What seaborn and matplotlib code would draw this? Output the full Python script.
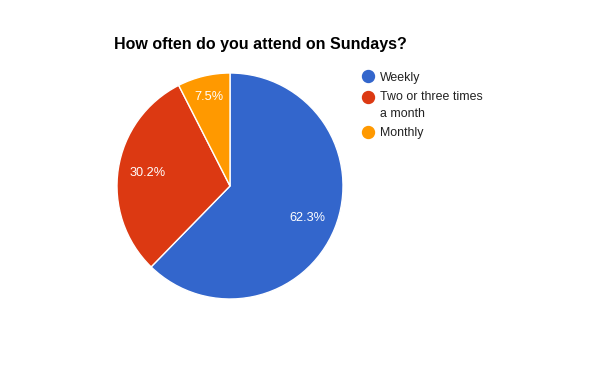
import matplotlib
matplotlib.use("Agg")
import matplotlib.pyplot as plt
import seaborn as sns
from matplotlib.lines import Line2D
from matplotlib.legend_handler import HandlerLine2D

categories = ["Weekly", "Two or three times\na month", "Monthly"]
shares = [62.3, 30.2, 7.5]
colors = ["#3366CC", "#DC3912", "#FF9900"]
title = "How often do you attend on Sundays?"

sns.set_theme(style="white")
plt.rcParams['font.family'] = ['Liberation Sans', 'DejaVu Sans']

fig = plt.figure(figsize=(6, 3.71), dpi=100)
W, H = 600, 371
# pie centre ~ (230, 186) px, radius ~113 px
ax = fig.add_axes([117 / W, (H - 186 - 113) / H, 226 / W, 226 / H])
wedges, texts, autotexts = ax.pie(
    shares, colors=colors, startangle=90, counterclock=False,
    autopct=lambda p: f"{p:.1f}%", pctdistance=0.74,
    wedgeprops=dict(edgecolor="white", linewidth=1),
    textprops=dict(color="white", fontsize=9.2),
)
ax.set_xlim(-1, 1)
ax.set_ylim(-1, 1)
ax.set_aspect("equal")
autotexts[2].set_position((autotexts[2].get_position()[0] * 1.1,
                           autotexts[2].get_position()[1] * 1.1))

fig.text(114 / W, 1 - 45 / H, title, fontsize=11.5, fontweight="bold",
         color="black", va="center", ha="left")


class FirstLineHandler(HandlerLine2D):
    # put the dot next to the first line of a two-line label
    def create_artists(self, *args, **kwargs):
        arts = super().create_artists(*args, **kwargs)
        for a in arts:
            a.set_ydata([y + 6.0 for y in a.get_ydata()])
        return arts


handles = [Line2D([], [], marker="o", linestyle="", markersize=8.6,
                  markerfacecolor=c, markeredgecolor=c) for c in colors]
leg = fig.legend(handles, categories, loc="upper left",
                 bbox_to_anchor=(362 / W, 1 - 71.5 / H), frameon=False,
                 fontsize=8.9, handlelength=1.0, handletextpad=0.45,
                 labelspacing=0.6, labelcolor="#222222", borderpad=0,
                 borderaxespad=0,
                 handler_map={handles[1]: FirstLineHandler()})
leg.get_texts()[1].set_linespacing(1.55)

fig.savefig("out.png", dpi=100)
